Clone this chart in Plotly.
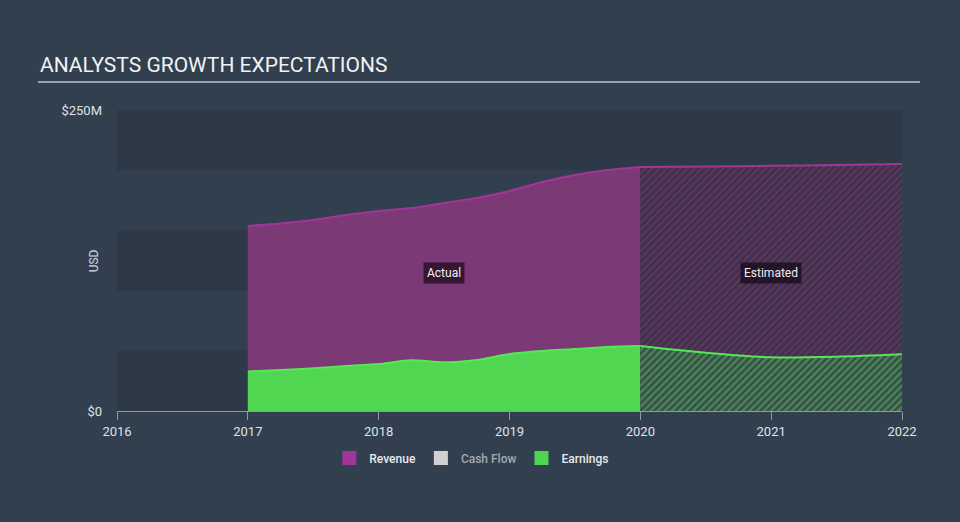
import plotly.graph_objects as go

# ---------------- data ($M) ----------------
actual_x = [2017.0, 2017.25, 2017.5, 2017.75, 2018.0, 2018.25, 2018.5, 2018.75,
            2019.0, 2019.25, 2019.5, 2019.75, 2020.0]
revenue_actual = [153.7, 155.7, 158.6, 162.8, 166.1, 168.6, 172.8, 176.9,
                  182.7, 190.2, 196.0, 200.2, 202.7]
earnings_actual = [32.8, 34.1, 35.5, 37.4, 39.0, 42.1, 40.4, 42.4,
                   47.3, 49.8, 51.5, 53.2, 54.0]

est_x = [2020.0, 2020.5, 2021.0, 2021.5, 2022.0]
revenue_est = [202.6, 203.0, 203.6, 204.4, 205.2]
earnings_est = [54.0, 48.4, 44.6, 45.1, 47.1]

year_ticks = [2016, 2017, 2018, 2019, 2020, 2021, 2022]
y_ticks = [0, 250]
y_ticklabels = ["$0", "$250M"]
band_step = 50

legend_names = ["Revenue", "Cash Flow", "Earnings"]
legend_colors = ["#a2359a", "#d0d0d0", "#4fd64f"]

# ---------------- styles ----------------
BG = "#323f4f"
DARK_BAND = "#2d3947"
REV_FILL = "#7b3a75"
REV_LINE = "#a2359a"
EARN_FILL = "#50d651"
EARN_LINE = "#57e657"
FONT = "Roboto"

fig = go.Figure()

# Revenue actual
fig.add_trace(go.Scatter(
    x=actual_x, y=revenue_actual, mode="lines", fill="tozeroy",
    fillcolor=REV_FILL, line=dict(color=REV_LINE, width=2, shape="spline", smoothing=0.8),
    showlegend=False, hoverinfo="skip"))
# Revenue estimated (hatched)
fig.add_trace(go.Scatter(
    x=est_x, y=revenue_est, mode="lines", fill="tozeroy",
    fillpattern=dict(shape="/", fgcolor="#7a3a76", bgcolor="#3e3149", size=5, solidity=0.45),
    line=dict(color=REV_LINE, width=2, shape="spline", smoothing=0.8),
    showlegend=False, hoverinfo="skip"))
# Earnings actual
fig.add_trace(go.Scatter(
    x=actual_x, y=earnings_actual, mode="lines", fill="tozeroy",
    fillcolor=EARN_FILL, line=dict(color=EARN_LINE, width=2, shape="spline", smoothing=0.8),
    showlegend=False, hoverinfo="skip"))
# Earnings estimated (hatched)
fig.add_trace(go.Scatter(
    x=est_x, y=earnings_est, mode="lines", fill="tozeroy",
    fillpattern=dict(shape="/", fgcolor="#52c453", bgcolor="#3a4b4c", size=5, solidity=0.5),
    line=dict(color=EARN_LINE, width=2, shape="spline", smoothing=0.8),
    showlegend=False, hoverinfo="skip"))

# Legend-only traces
for name, col in zip(legend_names, legend_colors):
    label = name if name != "Cash Flow" else "<span style='color:#a3a9b0'>%s</span>" % name
    fig.add_trace(go.Scatter(
        x=[None], y=[None], mode="markers", name=label,
        marker=dict(symbol="square", size=14, color=col)))

# background bands
shapes = []
for i, lo in enumerate(range(0, y_ticks[-1], band_step)):
    if i % 2 == 0:
        shapes.append(dict(type="rect", xref="paper", yref="y", x0=0, x1=1,
                           y0=lo, y1=lo + band_step, fillcolor=DARK_BAND,
                           line=dict(width=0), layer="below"))
# title underline
shapes.append(dict(type="line", xref="paper", yref="paper",
                   x0=-0.1006, x1=1.0229, y0=1.093, y1=1.093,
                   line=dict(color="#9aa3ad", width=2)))

annotations = [
    dict(text="ANALYSTS GROWTH EXPECTATIONS", xref="paper", yref="paper",
         x=-0.1006, y=1.103, xanchor="left", yanchor="bottom", showarrow=False,
         font=dict(family=FONT, size=21, color="#f0f2f4")),
    dict(text="USD", xref="paper", yref="paper", x=-0.041, y=0.5, textangle=-90,
         showarrow=False, font=dict(family=FONT, size=12, color="#d6dae0")),
    dict(text="Actual", x=2018.5, y=115, xref="x", yref="y", showarrow=False,
         bgcolor="rgba(15,5,18,0.65)", borderpad=3,
         font=dict(family=FONT, size=12, color="#eeeeee")),
    dict(text="Estimated", x=2021.0, y=115, xref="x", yref="y", showarrow=False,
         bgcolor="rgba(15,5,18,0.65)", borderpad=3,
         font=dict(family=FONT, size=12, color="#eeeeee")),
]

fig.update_layout(
    width=960, height=522,
    margin=dict(l=117, r=58, t=110, b=111),
    paper_bgcolor=BG, plot_bgcolor=BG,
    font=dict(family=FONT, color="#dfe3e8"),
    shapes=shapes, annotations=annotations,
    showlegend=True,
    legend=dict(orientation="h", x=0.452, xanchor="center", y=-0.156, yanchor="middle",
                font=dict(family=FONT, size=12, color="#e8eaee", weight=500),
                bgcolor="rgba(0,0,0,0)", itemwidth=30, tracegroupgap=0),
    xaxis=dict(range=[year_ticks[0], year_ticks[-1]], tickvals=year_ticks,
               ticktext=[str(v) for v in year_ticks],
               showgrid=False, zeroline=False, showline=True, linecolor="#8e9aa7",
               linewidth=1, ticks="outside", ticklen=8, tickcolor="#8e9aa7",
               tickfont=dict(family=FONT, size=13, color="#dfe3e8")),
    yaxis=dict(range=[0, 250], tickvals=y_ticks, ticktext=y_ticklabels,
               showgrid=False, zeroline=False, showline=False, ticks="",
               ticklabelstandoff=14,
               tickfont=dict(family=FONT, size=13, color="#dfe3e8")),
    hovermode=False,
)

fig.write_html(
    "out.html",
    config={"displayModeBar": False},
    post_script="document.body.style.margin='0';document.body.style.background='%s';" % BG,
)
